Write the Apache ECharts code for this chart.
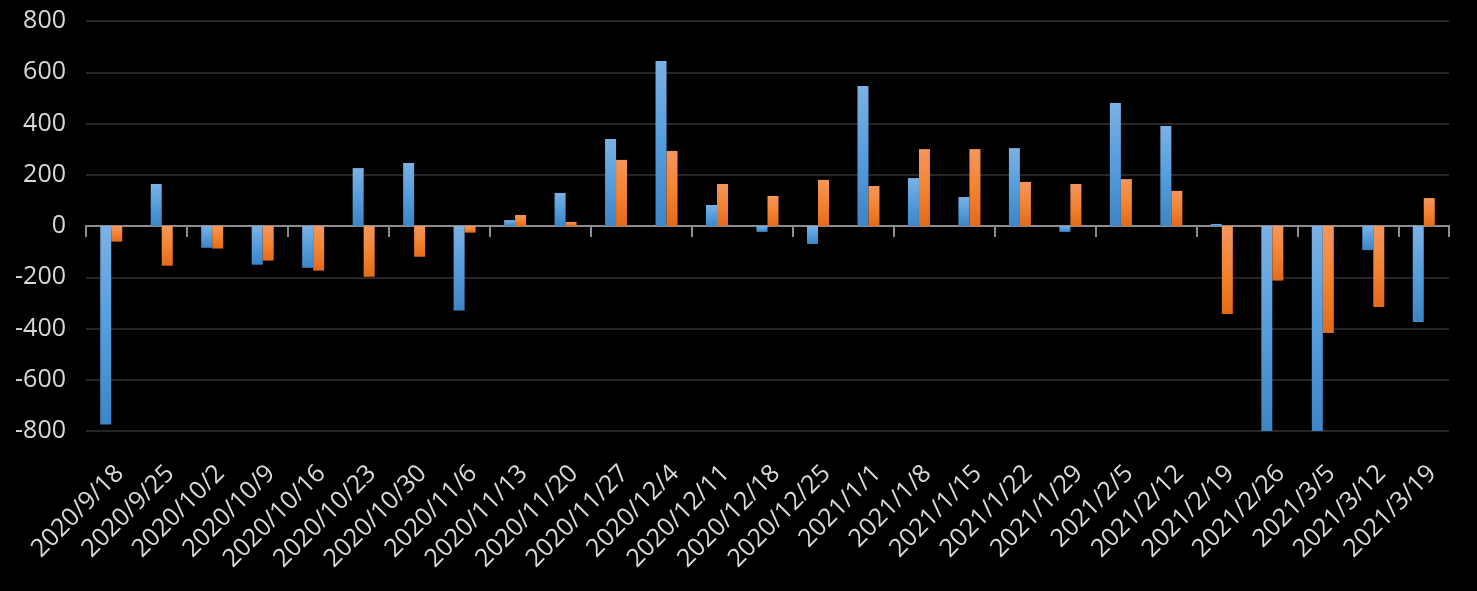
<!DOCTYPE html>
<html>
<head>
<meta charset="utf-8">
<script src="https://cdn.jsdelivr.net/npm/echarts@6/dist/echarts.min.js"></script>
<style>
html,body{margin:0;padding:0;background:#000;}
#chart{width:1477px;height:591px;}
</style>
</head>
<body>
<div id="chart"></div>
<script>
const categories = ['2020/9/18','2020/9/25','2020/10/2','2020/10/9','2020/10/16','2020/10/23','2020/10/30','2020/11/6','2020/11/13','2020/11/20','2020/11/27','2020/12/4','2020/12/11','2020/12/18','2020/12/25','2021/1/1','2021/1/8','2021/1/15','2021/1/22','2021/1/29','2021/2/5','2021/2/12','2021/2/19','2021/2/26','2021/3/5','2021/3/12','2021/3/19'];
const blueValues = [-775,164,-85,-151,-163,226,246,-330,23,129,340,644,82,-23,-70,546,187,113,304,-23,480,390,8,-800,-800,-94,-375];
const orangeValues = [-61,-155,-88,-135,-174,-198,-120,-26,43,16,258,293,164,117,180,156,300,300,172,164,183,137,-343,-213,-418,-316,109];
const yTicks = {min:-800, max:800, interval:200};

const chart = echarts.init(document.getElementById('chart'));
function grad(c1, c2, c3){
  return new echarts.graphic.LinearGradient(0,0,0,1,[
    {offset:0,color:c1},{offset:0.5,color:c2},{offset:1,color:c3}]);
}
const labelFont = {fontFamily:'"Open Sans", sans-serif', fontSize:25, color:'#d9d9d9'};
chart.setOption({
  backgroundColor:'#000',
  animation:false,
  grid:{left:86, right:28, top:21, bottom:160, containLabel:false},
  xAxis:[{
    type:'category', data:categories, position:'bottom',
    axisLine:{show:false, onZero:false}, axisTick:{show:false},
    axisLabel:Object.assign({rotate:45, margin:30, interval:0, verticalAlign:'top', lineHeight:24}, labelFont),
    splitLine:{show:false}
  },{
    type:'category', data:categories, position:'bottom',
    axisLine:{show:true, onZero:true, lineStyle:{color:'#8c8c8c', width:2}},
    axisTick:{show:true, length:11, lineStyle:{color:'#8c8c8c', width:2}},
    axisLabel:{show:false}, splitLine:{show:false}
  }],
  yAxis:{
    type:'value', min:yTicks.min, max:yTicks.max, interval:yTicks.interval,
    axisLine:{show:false}, axisTick:{show:false},
    axisLabel:Object.assign({margin:20}, labelFont),
    splitLine:{lineStyle:{color:'#262626', width:2}}
  },
  series:[{
    type:'bar', data:blueValues, xAxisIndex:0, barWidth:11, barGap:'0%',
    itemStyle:{color:grad('#7cb1e3','#559ddd','#3d85c6')}
  },{
    type:'bar', data:orangeValues, xAxisIndex:0, barWidth:11, barGap:'0%',
    itemStyle:{color:grad('#f4965d','#f38432','#e36a1b')}
  }]
});
</script>
</body>
</html>
